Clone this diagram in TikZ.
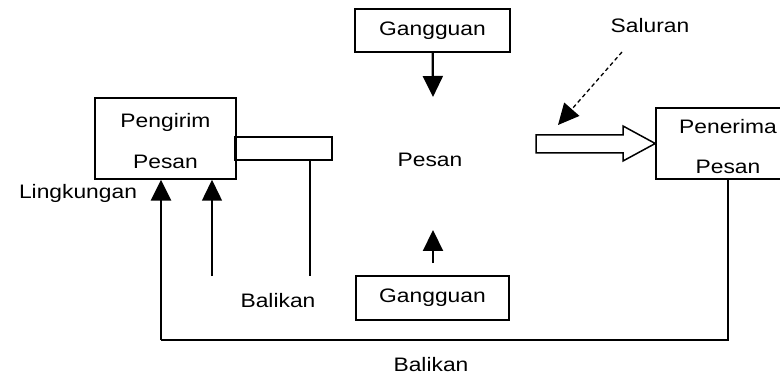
\documentclass[tikz,border=0pt]{standalone}
\usepackage{fontspec}
\setmainfont[FakeStretch=1.17]{Liberation Sans}
\usetikzlibrary{arrows.meta}

\begin{document}
\begin{tikzpicture}[x=1pt,y=-1pt,
	font=\fontsize{19.5}{22}\selectfont,
	kotak/.style={draw,line width=1.5pt,inner sep=0pt,align=center},
	garis/.style={line width=1.5pt},
	tebal/.style={line width=2.8pt},
	panah/.style={-{Triangle[length=21pt,width=20pt]}}]
	\useasboundingbox (0,0) rectangle (780,377);
	\node[kotak,minimum width=155,minimum height=43] (gangguanatas) at (432.5,30.5) {Gangguan};
	\node[kotak,minimum width=153,minimum height=44] (gangguanbawah) at (432.5,298) {Gangguan};
	\node[kotak,minimum width=141,minimum height=81] (pengirim) at (165.5,138.5) {\rule{0pt}{20pt}Pengirim\\[19pt]Pesan};
	\node[kotak,minimum width=144,minimum height=71] (penerima) at (728,143.5) {\rule{0pt}{20pt}Penerima\\[18pt]Pesan};
	\node[kotak,minimum width=96,minimum height=23] (kanal) at (284,148.5) {};
	\node (pesan) at (430,160) {Pesan};
	\node (saluran) at (650,26) {Saluran};
	\node (lingkungan) at (78,193) {Lingkungan};
	\node (balikan) at (278,301) {Balikan};
	\node (balikanbawah) at (431,365) {Balikan};
	\coordinate (ujungatas) at (433,97);
	\coordinate (pangkalbawah) at (433,263);
	\coordinate (ujungbawah) at (433,230);
	\coordinate (sudut) at (161,340);
	\coordinate (kiri) at (212,276);
	\coordinate (kanan) at (310,276);
	\coordinate (s1) at (622,52);
	\coordinate (s2) at (558,125);
	\draw[line width=3pt] (kanal.north west) -- (kanal.south west);
	\draw[garis,line width=2.2pt,panah] (gangguanatas) -- (ujungatas);
	\draw[garis,line width=2.2pt,panah] (pangkalbawah) -- (ujungbawah);
	\draw[line width=1.3pt,dash pattern=on 4pt off 3pt,panah] (s1) -- (s2);
	\draw[garis] (536,135) -- (623,135) -- (623,126) -- (penerima.west) -- (623,161) -- (623,153) -- (536,153) -- cycle;
	\draw[line width=2pt] (penerima.south) |- (sudut);
	\draw[tebal,panah] (sudut) -- (sudut |- pengirim.south);
	\draw[garis,panah] (kiri) -- (kiri |- pengirim.south);
	\draw[garis] (kanal.south -| kanan) -- (kanan);
\end{tikzpicture}
\end{document}
